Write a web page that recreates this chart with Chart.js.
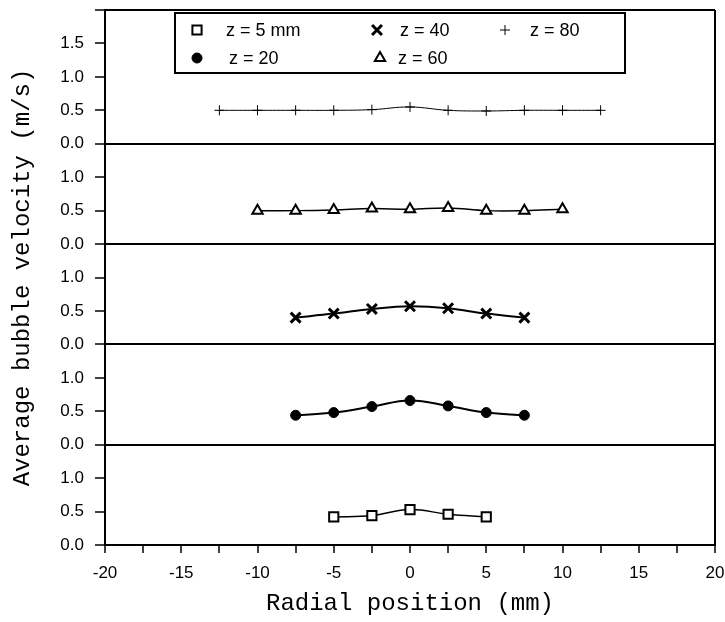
<!DOCTYPE html>
<html lang="en">
<head>
  <meta charset="UTF-8" />
  <title>Average bubble velocity vs radial position</title>
  <script src="https://cdn.jsdelivr.net/npm/chart.js"></script>
  <style>
    body { margin: 0; background: #fff; }
    #wrap { width: 725px; height: 622px; position: relative; }
  </style>
</head>
<body>
  <div id="wrap"><canvas id="chart"></canvas></div>

  <script>
    // measured profiles, one array pair per height z
    const seriesLabels = ["z = 5 mm", "z = 20", "z = 40", "z = 60", "z = 80"];

    const radialZ5 = [-5, -2.5, 0, 2.5, 5];
    const velocityZ5 = [0.42, 0.44, 0.53, 0.46, 0.42];

    const radialZ20 = [-7.5, -5, -2.5, 0, 2.5, 5, 7.5];
    const velocityZ20 = [0.44, 0.48, 0.57, 0.66, 0.58, 0.48, 0.44];

    const radialZ40 = [-7.5, -5, -2.5, 0, 2.5, 5, 7.5];
    const velocityZ40 = [0.40, 0.46, 0.53, 0.57, 0.54, 0.46, 0.40];

    const radialZ60 = [-10, -7.5, -5, -2.5, 0, 2.5, 5, 7.5, 10];
    const velocityZ60 = [0.50, 0.50, 0.51, 0.53, 0.52, 0.54, 0.50, 0.50, 0.52];

    const radialZ80 = [-12.5, -10, -7.5, -5, -2.5, 0, 2.5, 5, 7.5, 10, 12.5];
    const velocityZ80 = [0.50, 0.50, 0.50, 0.50, 0.51, 0.55, 0.50, 0.49, 0.50, 0.50, 0.50];

    // tick labels of each panel (lower panels and top panel)
    const panelTickLabels = ["0.0", "0.5", "1.0"];
    const topPanelTickLabels = ["0.0", "0.5", "1.0", "1.5"];

    // each panel is 1.5 units tall, the top one 2.0
    const PANEL_SPAN = 1.5;
    const TOP_SPAN = 2.0;
    const PANELS = 5;
    const Y_MAX = (PANELS - 1) * PANEL_SPAN + TOP_SPAN;

    const radial = [radialZ5, radialZ20, radialZ40, radialZ60, radialZ80];
    const velocity = [velocityZ5, velocityZ20, velocityZ40, velocityZ60, velocityZ80];

    const markerStyles = [
      { pointStyle: 'rect', pointRadius: 6.5, pointBorderWidth: 2, pointBackgroundColor: '#fff', borderWidth: 1.5 },
      { pointStyle: 'circle', pointRadius: 5, pointBorderWidth: 1, pointBackgroundColor: '#000', borderWidth: 2 },
      { pointStyle: 'crossRot', pointRadius: 7, pointBorderWidth: 3, pointBackgroundColor: '#000', borderWidth: 2 },
      { pointStyle: 'triangle', pointRadius: 6, pointBorderWidth: 2, pointBackgroundColor: '#fff', borderWidth: 1.5 },
      { pointStyle: 'cross', pointRadius: 5, pointBorderWidth: 1, pointBackgroundColor: '#000', borderWidth: 1 }
    ];

    const datasets = seriesLabels.map((label, i) => Object.assign({
      label: label,
      data: radial[i].map((r, k) => ({ x: r, y: velocity[i][k] + i * PANEL_SPAN })),
      borderColor: '#000',
      pointBorderColor: '#000',
      tension: 0.4,
      fill: false
    }, markerStyles[i]));

    function stepIndex(v) { return Math.round(v * 2); }   // 0.5 steps

    function yLabel(v) {
      const n = stepIndex(v);
      const lowSteps = (PANELS - 1) * 3;
      if (n >= lowSteps) return topPanelTickLabels[n - lowSteps] || '';
      return panelTickLabels[n % 3];
    }

    function isBoundary(v) {
      const n = stepIndex(v);
      return (n > 0 && n % 3 === 0 && n <= (PANELS - 1) * 3) || n === stepIndex(Y_MAX);
    }

    // legend box drawn inside the top panel
    const legendItems = [
      { series: 0, mx: 197, tx: 226, y: 30 },
      { series: 1, mx: 197, tx: 229, y: 58 },
      { series: 2, mx: 377, tx: 400, y: 30 },
      { series: 3, mx: 380, tx: 398, y: 58 },
      { series: 4, mx: 505, tx: 530, y: 30 }
    ];

    const boxLegend = {
      id: 'boxLegend',
      afterDraw(chart) {
        const ctx = chart.ctx;
        ctx.save();
        ctx.strokeStyle = '#000';
        ctx.lineWidth = 2;
        ctx.strokeRect(175, 13, 450, 60);
        ctx.font = '18px "Liberation Sans", Arial, sans-serif';
        ctx.textBaseline = 'middle';
        ctx.textAlign = 'left';
        legendItems.forEach(it => {
          const ds = chart.data.datasets[it.series];
          ctx.fillStyle = ds.pointBackgroundColor;
          ctx.strokeStyle = '#000';
          ctx.lineWidth = ds.pointBorderWidth;
          Chart.helpers.drawPoint(ctx, {
            pointStyle: ds.pointStyle,
            radius: ds.pointRadius,
            rotation: 0,
            borderWidth: ds.pointBorderWidth
          }, it.mx, it.y);
          ctx.fillStyle = '#000';
          ctx.fillText(ds.label, it.tx, it.y + 1);
        });
        ctx.restore();
      }
    };

    const tickFont = { family: '"Liberation Sans", Arial, sans-serif', size: 17 };
    const titleFont = { family: '"Liberation Mono", monospace', size: 24 };

    new Chart(document.getElementById('chart'), {
      type: 'line',
      data: { datasets: datasets },
      plugins: [boxLegend],
      options: {
        responsive: true,
        maintainAspectRatio: false,
        animation: false,
        layout: { padding: { top: 8, right: 9, left: 0, bottom: 0 } },
        plugins: { legend: { display: false }, tooltip: { enabled: false } },
        scales: {
          x: {
            type: 'linear',
            min: -20,
            max: 20,
            ticks: {
              stepSize: 2.5,
              autoSkip: false,
              maxRotation: 0,
              color: '#000',
              font: tickFont,
              padding: 10,
              callback: v => (v % 5 === 0 ? String(v) : '')
            },
            grid: {
              color: c => (c.tick && c.tick.value === 20 ? '#000' : 'rgba(0,0,0,0)'),
              lineWidth: 2,
              tickColor: '#000',
              tickWidth: 1.5,
              tickLength: 8
            },
            border: { display: true, color: '#000', width: 2 },
            title: {
              display: true,
              text: 'Radial position (mm)',
              color: '#000',
              font: titleFont,
              padding: { top: 0, bottom: 4 }
            },
            afterFit(scale) {
              scale.height = 77;
              scale.paddingLeft = 0;
              scale.paddingRight = 0;
            }
          },
          y: {
            min: 0,
            max: Y_MAX,
            ticks: {
              stepSize: 0.5,
              autoSkip: false,
              color: '#000',
              font: tickFont,
              padding: 11,
              callback: v => yLabel(v)
            },
            grid: {
              color: c => (c.tick && isBoundary(c.tick.value) ? '#000' : 'rgba(0,0,0,0)'),
              lineWidth: 2,
              tickColor: '#000',
              tickWidth: 1.5,
              tickLength: 10
            },
            border: { display: true, color: '#000', width: 2 },
            title: {
              display: true,
              text: 'Average bubble velocity (m/s)',
              color: '#000',
              font: titleFont,
              padding: { top: 8, bottom: 0 }
            },
            afterFit(scale) {
              scale.width = 105;
              scale.paddingTop = 0;
              scale.paddingBottom = 0;
            }
          }
        }
      }
    });
  </script>
</body>
</html>
